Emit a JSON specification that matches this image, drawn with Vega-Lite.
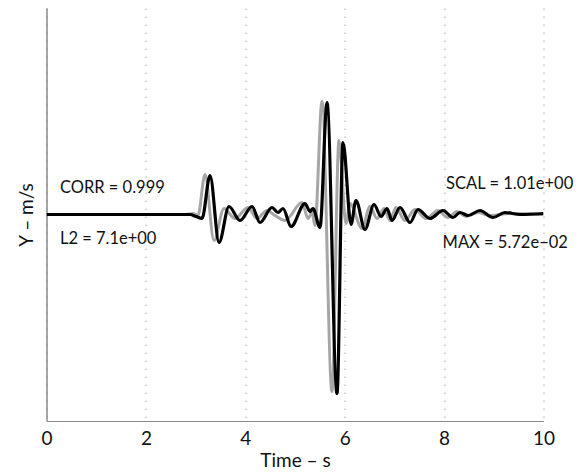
{
  "$schema": "https://vega.github.io/schema/vega-lite/v6.json",
  "autosize": {"type": "none"},
  "padding": {"left": 46.5, "top": 8, "right": 39.5, "bottom": 54},
  "width": 497,
  "height": 413,
  "background": "white",
  "config": {
    "view": {"stroke": null},
    "font": "Lato",
    "axis": {"labelFont": "Lato", "titleFont": "Lato"}
  },
  "datasets": {
    "black": [
      {"t": 0, "v": 0}, {"t": 2.887, "v": 0}, {"t": 3.008, "v": -0.0097}, {"t": 3.129, "v": -0.0194},
      {"t": 3.29, "v": 0.1889}, {"t": 3.471, "v": -0.1356}, {"t": 3.672, "v": 0.0387}, {"t": 3.893, "v": -0.0291},
      {"t": 4.135, "v": 0.0387}, {"t": 4.296, "v": -0.0387}, {"t": 4.537, "v": 0.0339}, {"t": 4.658, "v": 0.0097},
      {"t": 4.759, "v": 0.0291}, {"t": 4.92, "v": -0.0581}, {"t": 5.201, "v": 0.0533}, {"t": 5.302, "v": 0.0145},
      {"t": 5.362, "v": 0.0291}, {"t": 5.503, "v": -0.063}, {"t": 5.644, "v": 0.5424}, {"t": 5.845, "v": -0.8668},
      {"t": 5.966, "v": 0.3487}, {"t": 6.127, "v": -0.0484}, {"t": 6.227, "v": 0.0678}, {"t": 6.408, "v": -0.0726},
      {"t": 6.59, "v": 0.0484}, {"t": 6.731, "v": -0.0097}, {"t": 6.851, "v": 0.0291}, {"t": 6.952, "v": -0.0291},
      {"t": 7.113, "v": 0.0339}, {"t": 7.314, "v": -0.0387}, {"t": 7.475, "v": 0.0242}, {"t": 7.716, "v": -0.0194},
      {"t": 7.978, "v": 0.0194}, {"t": 8.179, "v": -0.0145}, {"t": 8.32, "v": 0.0097}, {"t": 8.481, "v": -0.0048},
      {"t": 8.722, "v": 0.0194}, {"t": 8.984, "v": -0.0145}, {"t": 9.225, "v": 0.0097}, {"t": 9.527, "v": 0},
      {"t": 10, "v": 0.0048}
    ],
    "gray": [
      {"t": 0, "v": 0}, {"t": 2.807, "v": 0}, {"t": 2.948, "v": 0.0048}, {"t": 3.048, "v": -0.0048},
      {"t": 3.189, "v": 0.1937}, {"t": 3.37, "v": -0.1259}, {"t": 3.571, "v": 0.0291}, {"t": 3.793, "v": -0.0194},
      {"t": 4.054, "v": 0.0339}, {"t": 4.235, "v": -0.0194}, {"t": 4.437, "v": 0.0194}, {"t": 4.598, "v": -0.0048},
      {"t": 4.799, "v": -0.0291}, {"t": 5.141, "v": 0.0581}, {"t": 5.262, "v": -0.0194}, {"t": 5.342, "v": 0.0097},
      {"t": 5.402, "v": -0.0533}, {"t": 5.543, "v": 0.5472}, {"t": 5.744, "v": -0.8571}, {"t": 5.885, "v": 0.3584},
      {"t": 6.026, "v": -0.0436}, {"t": 6.107, "v": 0.0533}, {"t": 6.348, "v": -0.0678}, {"t": 6.509, "v": 0.0387},
      {"t": 6.65, "v": -0.0194}, {"t": 6.791, "v": 0.0291}, {"t": 6.912, "v": -0.0291}, {"t": 7.032, "v": 0.0339},
      {"t": 7.213, "v": -0.0291}, {"t": 7.414, "v": 0.0242}, {"t": 7.636, "v": -0.0194}, {"t": 7.877, "v": 0.0194},
      {"t": 8.078, "v": -0.0145}, {"t": 8.26, "v": 0.0145}, {"t": 8.441, "v": -0.0097}, {"t": 8.682, "v": 0.0097},
      {"t": 8.924, "v": -0.0048}, {"t": 9.326, "v": 0.0048}, {"t": 10, "v": 0}
    ],
    "notes": [
      {"t": 0.27, "v": 0.126, "label": "CORR = 0.999"},
      {"t": 0.27, "v": -0.118, "label": "L2 = 7.1e+00"},
      {"t": 8.04, "v": 0.15, "label": "SCAL = 1.01e+00"},
      {"t": 7.97, "v": -0.136, "label": "MAX = 5.72e\u221202"}
    ]
  },
  "layer": [
    {
      "data": {"name": "gray"},
      "mark": {"type": "line", "color": "#a6a6a6", "strokeWidth": 3, "interpolate": "monotone", "clip": true},
      "encoding": {
        "x": {
          "field": "t", "type": "quantitative",
          "scale": {"domain": [0, 10], "nice": false, "zero": false},
          "axis": {
            "title": "Time \u2013 s", "values": [0, 2, 4, 6, 8, 10],
            "grid": true, "gridDash": [1.5, 6.5], "gridColor": "#b5b5b5", "gridWidth": 1.2,
            "domainColor": "#8a8a8a", "domainWidth": 1.2, "ticks": false,
            "labelFontSize": 19, "labelColor": "#111", "labelPadding": 8, "labelFlush": false,
            "titleFontSize": 19, "titleFontWeight": "normal", "titleColor": "#111", "titlePadding": 3
          }
        },
        "y": {
          "field": "v", "type": "quantitative",
          "scale": {"domain": [-1, 1], "nice": false},
          "axis": {
            "title": "Y \u2013 m/s", "labels": false, "ticks": false, "grid": false,
            "domainColor": "#8a8a8a", "domainWidth": 1.5,
            "titleFontSize": 19, "titleFontWeight": "normal", "titleColor": "#111", "titlePadding": 10
          }
        }
      }
    },
    {
      "data": {"name": "black"},
      "mark": {"type": "line", "color": "#000000", "strokeWidth": 3.2, "interpolate": "monotone", "clip": true},
      "encoding": {
        "x": {"field": "t", "type": "quantitative"},
        "y": {"field": "v", "type": "quantitative"}
      }
    },
    {
      "data": {"name": "notes"},
      "mark": {"type": "text", "align": "left", "baseline": "middle", "fontSize": 16.5, "color": "#111"},
      "encoding": {
        "x": {"field": "t", "type": "quantitative"},
        "y": {"field": "v", "type": "quantitative"},
        "text": {"field": "label"}
      }
    }
  ]
}
